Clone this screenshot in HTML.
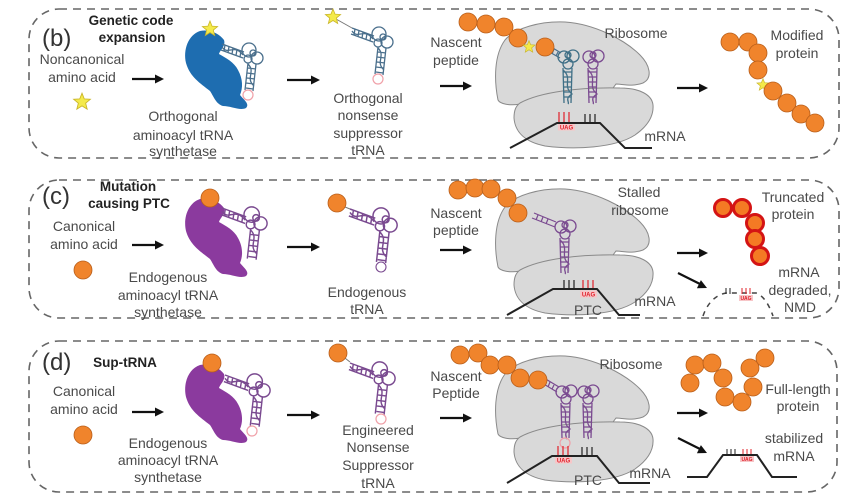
<!DOCTYPE html>
<html><head><meta charset="utf-8"><style>
html,body{margin:0;padding:0;background:#fff;}
svg{display:block;}
text{font-family:"Liberation Sans",Arial,sans-serif;}
.t{font-size:14px;fill:#4a4a4a;text-anchor:middle;}
.b{font-size:13.5px;font-weight:bold;fill:#222;text-anchor:middle;}
.p{font-size:24px;fill:#333;}
.u{font-size:6px;font-weight:bold;fill:#e0202a;text-anchor:middle;}
</style></head><body>
<svg width="865" height="503" viewBox="0 0 865 503" xmlns="http://www.w3.org/2000/svg">
<defs>
  <polygon id="star" points="0,-8 2.06,-2.83 7.61,-2.47 3.33,1.08 4.70,6.47 0,3.5 -4.70,6.47 -3.33,1.08 -7.61,-2.47 -2.06,-2.83" fill="#f4ea4a" stroke="#c9b52a" stroke-width="0.8"/>
  <circle id="aa" r="9" fill="#f0842c" stroke="#b85e1a" stroke-width="0.8"/>
  <circle id="ta" r="8.5" fill="#f47a24" stroke="#d41414" stroke-width="3"/>
  <path id="syn" d="M200,31 C209,29 219,33 224,40 C226,46 220,50 219,54 C226,58 234,62 238,70 C243,79 243,88 240,95 C244,100 250,104 246,108 C240,111 231,106 223,106 C216,104 214,97 210,91 C200,83 190,77 186,63 C183,50 188,35 200,31 Z"/>
  <g id="tr" fill="none" stroke-width="1.3">
    <path d="M0,0 L22,8 M-1,6 L21,14 M3,1 L2,7 M7,2.5 L6,8.5 M11,4 L10,10 M15,5.5 L14,11.5 M19,7 L18,13 M0,3 C6,12 12,-1 21,11"/>
    <circle cx="27" cy="6" r="7"/><circle cx="35" cy="14" r="6"/><circle cx="26" cy="15" r="4"/><circle cx="31" cy="9" r="3"/>
    <path d="M26,19 L23,46 M34,20 L31,47 M26,24 L34,25 M25,29 L33,30 M25,34 L33,35 M24,39 L32,40 M24,44 L31,45 M26,20 C34,28 23,34 32,42"/>
  </g>
  <g id="vt" fill="none" stroke-width="1.3">
    <circle cx="6" cy="7" r="6"/><circle cx="15" cy="6" r="6"/><circle cx="10" cy="14" r="5"/><circle cx="10" cy="5" r="3"/>
    <path d="M5,18 L6,53 M14,18 L13,53 M5,22 L14,22 M5,27 L14,27 M5,32 L14,32 M5,37 L14,37 M6,42 L13,42 M6,47 L13,47 M5,20 C15,28 4,36 14,44 C6,49 12,52 10,54"/>
  </g>
  <g id="ribo" fill="#d9d9d9" stroke="#8a8a8a" stroke-width="1">
    <path d="M498,100 C494,80 494,55 505,40 C515,28 540,21 565,22 C595,24 625,40 640,55 C650,65 653,78 643,83 C633,87 622,84 616,84 L613,88 C580,92 540,95 520,104 C510,106 500,104 498,100 Z"/>
    <path d="M520,103 C540,92 580,87 620,88 C640,88 652,95 653,105 C654,118 645,128 635,135 C615,148 575,150 545,146 C525,142 515,132 514,118 C514,110 516,106 520,103 Z"/>
  </g>
</defs>
<rect width="865" height="503" fill="#fff"/>

<g fill="none" stroke="#666" stroke-width="1.6" stroke-dasharray="8 6">
  <rect x="29" y="9" width="810" height="149" rx="30"/>
  <rect x="29" y="180" width="810" height="138" rx="30"/>
  <rect x="29" y="341" width="808" height="151" rx="30"/>
</g>

<g stroke="#111" stroke-width="2.2">
  <line x1="132" y1="79" x2="155" y2="79"/><line x1="287" y1="80" x2="311" y2="80"/>
  <line x1="440" y1="86" x2="463" y2="86"/><line x1="677" y1="88" x2="699" y2="88"/>
  <line x1="132" y1="245" x2="155" y2="245"/><line x1="287" y1="247" x2="311" y2="247"/>
  <line x1="440" y1="250" x2="463" y2="250"/><line x1="677" y1="253" x2="699" y2="253"/>
  <line x1="678" y1="273" x2="700" y2="284"/>
  <line x1="132" y1="412" x2="155" y2="412"/><line x1="287" y1="415" x2="311" y2="415"/>
  <line x1="440" y1="418" x2="463" y2="418"/><line x1="677" y1="413" x2="699" y2="413"/>
  <line x1="678" y1="438" x2="700" y2="449"/>
</g>
<g fill="#111">
  <polygon points="164,79 155,74.5 155,83.5"/><polygon points="320,80 311,75.5 311,84.5"/>
  <polygon points="472,86 463,81.5 463,90.5"/><polygon points="708,88 699,83.5 699,92.5"/>
  <polygon points="164,245 155,240.5 155,249.5"/><polygon points="320,247 311,242.5 311,251.5"/>
  <polygon points="472,250 463,245.5 463,254.5"/><polygon points="708,253 699,248.5 699,257.5"/>
  <polygon points="707,288 696.9,288.2 700.9,280.1"/>
  <polygon points="164,412 155,407.5 155,416.5"/><polygon points="320,415 311,410.5 311,419.5"/>
  <polygon points="472,418 463,413.5 463,422.5"/><polygon points="708,413 699,408.5 699,417.5"/>
  <polygon points="707,453 696.9,453.2 700.9,445.1"/>
</g>

<!-- Panel b -->
<text class="p" x="42" y="46">(b)</text>
<text class="b" x="131" y="25">Genetic code</text>
<text class="b" x="132" y="42">expansion</text>
<text class="t" x="82" y="64">Noncanonical</text>
<text class="t" x="82" y="82">amino acid</text>
<use href="#star" transform="translate(82,102) scale(1.1)"/>
<use href="#syn" fill="#1e6db0"/>
<use href="#tr" stroke="#4a6f8c" transform="translate(222,44)"/>
<circle cx="248" cy="95" r="5" fill="none" stroke="#f0a0a8" stroke-width="1.2"/>
<use href="#star" transform="translate(210,29)"/>
<text class="t" x="183" y="121">Orthogonal</text>
<text class="t" x="183" y="140">aminoacyl tRNA</text>
<text class="t" x="183" y="156">synthetase</text>
<line x1="336" y1="19" x2="352" y2="28" stroke="#777" stroke-width="1"/>
<use href="#tr" stroke="#4a6f8c" transform="translate(352,28)"/>
<circle cx="378" cy="79" r="5" fill="none" stroke="#f0a0a8" stroke-width="1.2"/>
<use href="#star" transform="translate(333,17)"/>
<text class="t" x="368" y="103">Orthogonal</text>
<text class="t" x="368" y="120">nonsense</text>
<text class="t" x="368" y="138">suppressor</text>
<text class="t" x="368" y="155">tRNA</text>
<text class="t" x="456" y="47">Nascent</text>
<text class="t" x="456" y="65">peptide</text>
<use href="#ribo"/>
<path d="M560,58 L546,50 M561,53 L548,45 M550,47 L548,52 M554,49 L552,54 M558,52 L556,56" stroke="#4a6f8c" stroke-width="1.2" fill="none"/>
<use href="#vt" stroke="#3f6f86" transform="translate(558,50)"/>
<use href="#vt" stroke="#7a4a90" transform="translate(583,50)"/>
<g stroke="#e0202a" stroke-width="1.2"><path d="M559,112 L559,122 M564,112 L564,122 M569,112 L569,122"/></g>
<g stroke="#222" stroke-width="1.2"><path d="M585,114 L585,122 M590,114 L590,122 M595,114 L595,122"/></g>
<rect x="558" y="123.5" width="17" height="7" fill="#f7c6c8"/>
<text class="u" x="566.5" y="129.5">UAG</text>
<path d="M510,148 L557,123 L600,123 L625,148 L652,148" fill="none" stroke="#222" stroke-width="2"/>
<use href="#aa" x="468" y="22"/><use href="#aa" x="486" y="24"/><use href="#aa" x="504" y="27"/><use href="#aa" x="518" y="38"/>
<use href="#star" transform="translate(529,47) scale(0.8)"/>
<use href="#aa" x="545" y="47"/>
<text class="t" x="636" y="38">Ribosome</text>
<text class="t" x="665" y="141">mRNA</text>
<use href="#aa" x="730" y="42"/><use href="#aa" x="748" y="42"/><use href="#aa" x="758" y="53"/><use href="#aa" x="758" y="70"/>
<use href="#star" transform="translate(763,85) scale(0.8)"/>
<use href="#aa" x="773" y="91"/><use href="#aa" x="787" y="103"/><use href="#aa" x="801" y="114"/><use href="#aa" x="815" y="123"/>
<text class="t" x="797" y="40">Modified</text>
<text class="t" x="797" y="58">protein</text>

<!-- Panel c -->
<text class="p" x="42" y="204">(c)</text>
<text class="b" x="128" y="191">Mutation</text>
<text class="b" x="129" y="208">causing PTC</text>
<text class="t" x="84" y="231">Canonical</text>
<text class="t" x="84" y="249">amino acid</text>
<use href="#aa" x="83" y="270"/>
<use href="#syn" fill="#8b3a9e" transform="translate(0,168)"/>
<use href="#tr" stroke="#7a4a90" transform="translate(222,208) scale(1.1)"/>
<use href="#aa" x="210" y="198"/>
<text class="t" x="168" y="282">Endogenous</text>
<text class="t" x="168" y="300">aminoacyl tRNA</text>
<text class="t" x="168" y="317">synthetase</text>
<line x1="340" y1="205" x2="350" y2="209" stroke="#777" stroke-width="1"/>
<use href="#tr" stroke="#7a4a90" transform="translate(350,209) scale(1.15)"/>
<circle cx="381" cy="267" r="5" fill="none" stroke="#7a4a90" stroke-width="1.1"/>
<use href="#aa" x="337" y="203"/>
<text class="t" x="367" y="297">Endogenous</text>
<text class="t" x="367" y="314">tRNA</text>
<text class="t" x="456" y="218">Nascent</text>
<text class="t" x="456" y="235">peptide</text>
<use href="#ribo" transform="translate(0,167)"/>
<path d="M555,227 L532,218 M556,222 L534,213 M538,215 L536,220 M543,217 L541,222 M548,219 L546,224" stroke="#7a4a90" stroke-width="1.2" fill="none"/>
<use href="#vt" stroke="#7a4a90" transform="translate(555,220)"/>
<g stroke="#222" stroke-width="1.2"><path d="M564,280 L564,289 M569,280 L569,289 M574,280 L574,289"/></g>
<g stroke="#e0202a" stroke-width="1.2"><path d="M583,280 L583,289 M588,280 L588,289 M593,280 L593,289"/></g>
<rect x="580" y="290.5" width="17" height="7" fill="#f7c6c8"/>
<text class="u" x="588.5" y="296.5">UAG</text>
<path d="M507,315 L553,289 L597,289 L619,315 L640,315" fill="none" stroke="#222" stroke-width="2"/>
<use href="#aa" x="458" y="190"/><use href="#aa" x="475" y="188"/><use href="#aa" x="491" y="189"/><use href="#aa" x="507" y="198"/><use href="#aa" x="518" y="213"/>
<text class="t" x="639" y="197">Stalled</text>
<text class="t" x="640" y="215">ribosome</text>
<text class="t" x="588" y="315">PTC</text>
<text class="t" x="655" y="306">mRNA</text>
<use href="#ta" x="723" y="208"/><use href="#ta" x="742" y="208"/><use href="#ta" x="755" y="223"/><use href="#ta" x="755" y="239"/><use href="#ta" x="760" y="256"/>
<text class="t" x="793" y="202">Truncated</text>
<text class="t" x="793" y="219">protein</text>
<path d="M703,316 C707,304 715,295 726,293 L756,293 C764,296 769,305 773,316" fill="none" stroke="#444" stroke-width="1.5" stroke-dasharray="5 5"/>
<g stroke="#222" stroke-width="1"><path d="M726,288 L726,294 M730,288 L730,294"/></g>
<g stroke="#e0202a" stroke-width="1"><path d="M742,288 L742,294 M746,288 L746,294 M750,288 L750,294"/></g>
<rect x="739" y="295" width="14" height="6" fill="#f7c6c8"/>
<text class="u" x="746" y="300" style="font-size:5px">UAG</text>
<text class="t" x="799" y="277">mRNA</text>
<text class="t" x="800" y="295">degraded,</text>
<text class="t" x="800" y="312">NMD</text>

<!-- Panel d -->
<text class="p" x="42" y="370">(d)</text>
<text class="b" x="125" y="367">Sup-tRNA</text>
<text class="t" x="84" y="396">Canonical</text>
<text class="t" x="84" y="414">amino acid</text>
<use href="#aa" x="83" y="435"/>
<use href="#syn" fill="#8b3a9e" transform="translate(0,334)"/>
<use href="#tr" stroke="#7a4a90" transform="translate(225,375) scale(1.1)"/>
<circle cx="252" cy="431" r="5" fill="none" stroke="#f0a0a8" stroke-width="1.2"/>
<use href="#aa" x="212" y="363"/>
<text class="t" x="168" y="448">Endogenous</text>
<text class="t" x="168" y="465">aminoacyl tRNA</text>
<text class="t" x="168" y="482">synthetase</text>
<line x1="341" y1="355" x2="350" y2="362" stroke="#777" stroke-width="1"/>
<use href="#tr" stroke="#7a4a90" transform="translate(350,363) scale(1.1)"/>
<circle cx="381" cy="419" r="5" fill="none" stroke="#f0a0a8" stroke-width="1.2"/>
<use href="#aa" x="338" y="353"/>
<text class="t" x="378" y="435">Engineered</text>
<text class="t" x="378" y="452">Nonsense</text>
<text class="t" x="378" y="470">Suppressor</text>
<text class="t" x="378" y="488">tRNA</text>
<text class="t" x="456" y="381">Nascent</text>
<text class="t" x="456" y="398">Peptide</text>
<use href="#ribo" transform="translate(0,334)"/>
<path d="M557,392 L542,383 M559,387 L544,378 M546,380 L544,385 M550,382 L548,387 M554,385 L552,389" stroke="#7a4a90" stroke-width="1.2" fill="none"/>
<use href="#vt" stroke="#7a4a90" transform="translate(556,385)"/>
<use href="#vt" stroke="#7a4a90" transform="translate(578,385)"/>
<circle cx="565" cy="443" r="5" fill="none" stroke="#f0a0a8" stroke-width="1.2"/>
<g stroke="#e0202a" stroke-width="1.2"><path d="M558,446 L558,455 M563,446 L563,455 M568,446 L568,455"/></g>
<g stroke="#222" stroke-width="1.2"><path d="M582,447 L582,455 M587,447 L587,455 M592,447 L592,455"/></g>
<rect x="555" y="456.5" width="17" height="7" fill="#f7c6c8"/>
<text class="u" x="563.5" y="462.5">UAG</text>
<path d="M507,483 L552,456 L597,456 L619,483 L650,483" fill="none" stroke="#222" stroke-width="2"/>
<use href="#aa" x="460" y="355"/><use href="#aa" x="478" y="353"/><use href="#aa" x="490" y="365"/><use href="#aa" x="507" y="365"/><use href="#aa" x="520" y="378"/><use href="#aa" x="538" y="380"/>
<text class="t" x="631" y="369">Ribosome</text>
<text class="t" x="588" y="485">PTC</text>
<text class="t" x="650" y="478">mRNA</text>
<use href="#aa" x="695" y="365"/><use href="#aa" x="690" y="383"/><use href="#aa" x="712" y="363"/><use href="#aa" x="723" y="378"/><use href="#aa" x="725" y="397"/><use href="#aa" x="742" y="402"/><use href="#aa" x="753" y="387"/><use href="#aa" x="750" y="368"/><use href="#aa" x="765" y="358"/>
<text class="t" x="798" y="394">Full-length</text>
<text class="t" x="798" y="411">protein</text>
<g stroke="#222" stroke-width="1"><path d="M727,449 L727,455 M731,449 L731,455 M735,449 L735,455"/></g>
<g stroke="#e0202a" stroke-width="1"><path d="M743,449 L743,455 M747,449 L747,455 M751,449 L751,455"/></g>
<rect x="740" y="456" width="14" height="6" fill="#f7c6c8"/>
<text class="u" x="747" y="461" style="font-size:5px">UAG</text>
<path d="M687,477 L707,477 L723,455 L757,455 L772,477 L797,477" fill="none" stroke="#222" stroke-width="2"/>
<text class="t" x="794" y="443">stabilized</text>
<text class="t" x="794" y="461">mRNA</text>
</svg>
</body></html>
